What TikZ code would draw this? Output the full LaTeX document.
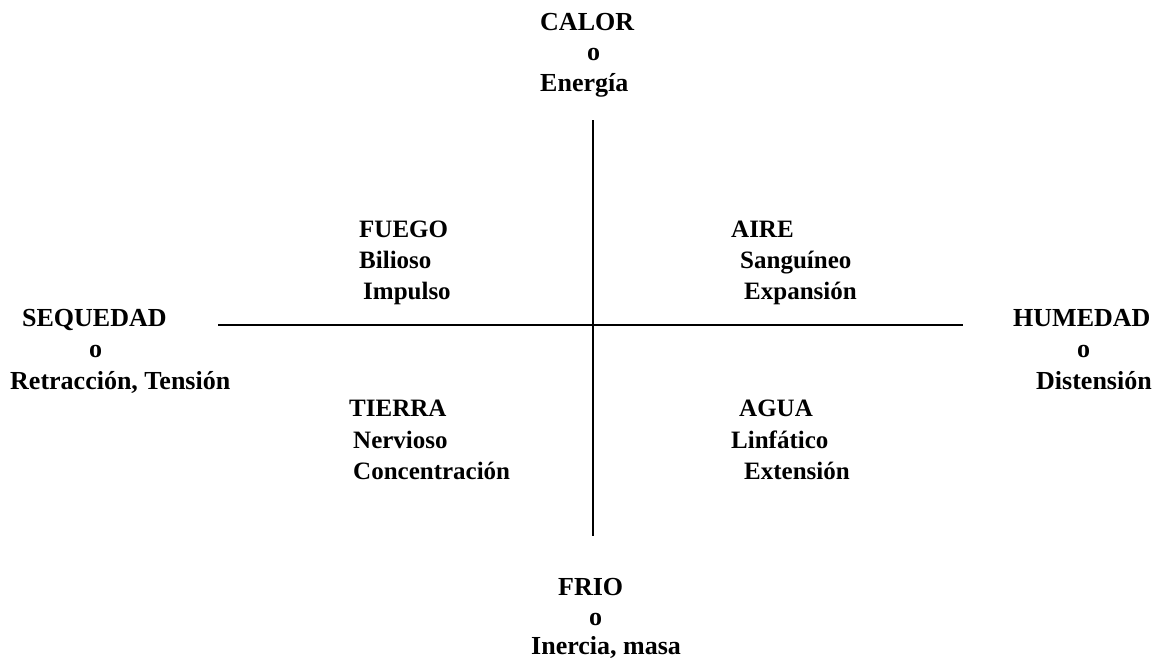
\documentclass[tikz,border=0pt]{standalone}
\usepackage{fontspec}
\setmainfont{Liberation Serif}
\begin{document}
\begin{tikzpicture}[x=1pt,y=-1pt,
  lbl/.style={anchor=base west,inner sep=0pt,font=\fontsize{25}{30}\selectfont\bfseries},
  side/.style={anchor=base west,inner sep=0pt,font=\fontsize{26}{31}\selectfont\bfseries},
  axis/.style={line width=1.3pt}]
\useasboundingbox (0,0) rectangle (1156,659);
% top
\node[side] (calor) at (540,30) {CALOR};
\node[side] (calo) at (587,60) {o};
\node[side] (energia) at (540,91) {Energía};
% bottom
\node[side] (frio) at (558,595) {FRIO};
\node[side] (frioo) at (589,625) {o};
\node[side] (inercia) at (531,654) {Inercia, masa};
% left
\node[side] (seq) at (22,326) {SEQUEDAD};
\node[side] (seqo) at (89,357) {o};
\node[side] (retr) at (10,389) {Retracción, Tensión};
% right
\node[side] (hum) at (1013,326) {HUMEDAD};
\node[side] (humo) at (1077,357) {o};
\node[side] (dist) at (1036,389) {Distensión};
% quadrants
\node[lbl] (fuego) at (359,237) {FUEGO};
\node[lbl] (bil) at (359,268) {Bilioso};
\node[lbl] (imp) at (363,299) {Impulso};
\node[lbl] (aire) at (731,237) {AIRE};
\node[lbl] (sang) at (740,268) {Sanguíneo};
\node[lbl] (exp) at (744,299) {Expansión};
\node[lbl] (tierra) at (349,416) {TIERRA};
\node[lbl] (nerv) at (353,448) {Nervioso};
\node[lbl] (conc) at (353,479) {Concentración};
\node[lbl] (agua) at (739,416) {AGUA};
\node[lbl] (linf) at (731,448) {Linfático};
\node[lbl] (ext) at (744,479) {Extensión};
% axes
\coordinate (vt) at (593,120);
\coordinate (vb) at (593,536);
\coordinate (hl) at (218,325);
\coordinate (hr) at (963,325);
\draw[axis] (vt) -- (vb);
\draw[axis] (hl) -- (hr);
\end{tikzpicture}
\end{document}
